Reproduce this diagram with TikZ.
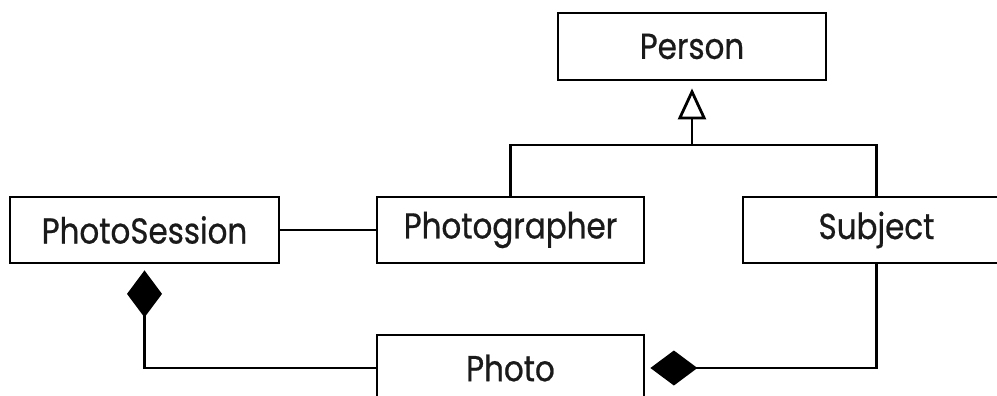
\documentclass[tikz,border=0pt]{standalone}
\usepackage{fontspec}
\setmainfont{Poppins}[FakeStretch=0.86, FakeBold=0.6]
\usetikzlibrary{arrows.meta}
\definecolor{ink}{HTML}{1A1A1A}
\tikzset{
  classbox/.style={draw=black, line width=2.8pt, fill=white, inner sep=0pt,
    minimum width=267pt, minimum height=66pt, text=ink,
    font=\fontsize{36}{42}\selectfont},
  link/.style={draw=black, line width=2.8pt},
  comp/.style={{Diamond[length=47pt, width=35pt, fill=black]}-},
  gen/.style={-{Triangle[open, length=31pt, width=28pt, fill=white]}},
}
\begin{document}
\begin{tikzpicture}[x=1pt, y=-1pt]
  \useasboundingbox[fill=white] (0,0) rectangle (997,396);
  % class boxes
  \node[classbox, minimum width=268pt, minimum height=67pt] (person) at (692,46.5) {Person};
  \node[classbox] (photographer) at (510.5,230) {Photographer};
  \node[classbox] (subject) at (876.5,230) {Subject};
  \node[classbox, minimum width=269pt] (session) at (144.5,230) {PhotoSession};
  \node[classbox] (photo) at (510.5,368) {Photo};
  % generalisation: Photographer and Subject are Persons
  \coordinate (bar) at (692,145);
  \draw[link] (photographer.north) |- (bar) -| (subject.north);
  \draw[link, gen, shorten >=7pt] (bar) -- (person.south);
  % association
  \draw[link] (session.east) -- (photographer.west);
  % compositions
  \draw[link, comp, shorten <=6pt] (session.south) |- (photo.west);
  \draw[link, comp, shorten <=5pt] (photo.east) -| (subject.south);
\end{tikzpicture}
\end{document}
